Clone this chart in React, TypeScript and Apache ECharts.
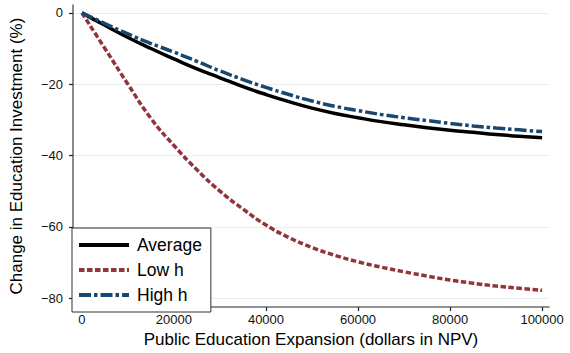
import React, { useEffect, useRef } from "react";
import * as echarts from "echarts";

const xValues = [0, 5000, 10000, 15000, 20000, 25000, 30000, 35000, 40000, 45000, 50000, 55000, 60000, 65000, 70000, 75000, 80000, 85000, 90000, 95000, 100000];
const averageValues = [0, -3.5, -6.9, -10.0, -12.9, -15.7, -18.2, -20.7, -22.9, -24.9, -26.7, -28.2, -29.4, -30.5, -31.4, -32.2, -32.9, -33.5, -34.1, -34.6, -35.0];
const lowHValues = [0, -10.0, -20.0, -29.6, -37.2, -44.0, -50.0, -55.0, -59.5, -63.0, -65.8, -68.0, -69.8, -71.3, -72.6, -73.8, -74.9, -75.8, -76.6, -77.2, -77.8];
const highHValues = [0, -3.0, -5.9, -8.6, -11.0, -13.6, -16.3, -18.7, -20.9, -22.9, -24.7, -26.2, -27.4, -28.5, -29.4, -30.2, -31.0, -31.7, -32.3, -32.8, -33.3];
const xTicks = [0, 20000, 40000, 60000, 80000, 100000];
const yTicks = [-80, -60, -40, -20, 0];
const seriesNames = ["Average", "Low h", "High h"];

const FONT = "Liberation Sans, Arial, Helvetica, sans-serif";

export default function App() {
  const ref = useRef<HTMLDivElement>(null);
  useEffect(() => {
    if (!ref.current) return;
    const chart = echarts.init(ref.current, undefined, { renderer: "svg" });
    const toPairs = (ys: number[]) => xValues.map((x, i) => [x, ys[i]]);
    chart.setOption({
      animation: false,
      backgroundColor: "#ffffff",
      textStyle: { fontFamily: FONT },
      grid: { left: 68, right: 21, top: 5, bottom: 43, containLabel: false },
      xAxis: {
        type: "value",
        min: -1935,
        max: 101500,
        name: "Public Education Expansion (dollars in NPV)",
        nameLocation: "middle",
        nameGap: 22,
        nameTextStyle: { fontSize: 17, color: "#000", fontFamily: FONT },
        axisLine: { show: true, onZero: false, lineStyle: { color: "#6e6e6e", width: 1.6 } },
        axisTick: { show: true, customValues: xTicks, length: 4, lineStyle: { color: "#222", width: 1.2 } },
        axisLabel: {
          customValues: xTicks,
          fontSize: 13,
          color: "#111",
          margin: 6,
          fontFamily: FONT,
          formatter: (v: number) => String(v),
        },
        splitLine: { show: false },
      },
      yAxis: {
        type: "value",
        min: -82.5,
        max: 2.2,
        name: "Change in Education Investment (%)",
        nameLocation: "middle",
        nameGap: 48,
        nameRotate: 90,
        nameTextStyle: { fontSize: 17, color: "#000", fontFamily: FONT },
        axisLine: { show: true, onZero: false, lineStyle: { color: "#6e6e6e", width: 1.6 } },
        axisTick: { show: true, customValues: yTicks, length: 4, lineStyle: { color: "#222", width: 1.2 } },
        axisLabel: {
          customValues: yTicks,
          fontSize: 13,
          color: "#111",
          margin: 10,
          fontFamily: FONT,
          formatter: (v: number) => String(v).replace("-", "\u2212"),
        },
        splitLine: { show: true, lineStyle: { color: "#e6eef0", width: 1 } },
      },
      legend: {
        show: true,
        orient: "vertical",
        left: 72,
        top: 228,
        data: seriesNames,
        itemWidth: 50,
        itemHeight: 14,
        itemGap: 7,
        padding: [8, 9, 8, 5],
        borderColor: "#333",
        borderWidth: 1,
        backgroundColor: "#fff",
        itemStyle: { opacity: 0 },
        lineStyle: { width: 4 },
        textStyle: { fontSize: 17.5, color: "#000", fontFamily: FONT, padding: [0, 0, 0, 3] },
      },
      series: [
        {
          name: seriesNames[0],
          type: "line",
          data: toPairs(averageValues),
          smooth: true,
          showSymbol: false,
          symbol: "none",
          lineStyle: { color: "#000000", width: 3.5, type: "solid" },
          itemStyle: { color: "#000000" },
          z: 3,
        },
        {
          name: seriesNames[1],
          type: "line",
          data: toPairs(lowHValues),
          smooth: true,
          showSymbol: false,
          symbol: "none",
          lineStyle: { color: "#90353b", width: 3.5, type: [5.5, 2.5] },
          itemStyle: { color: "#90353b" },
          z: 3,
        },
        {
          name: seriesNames[2],
          type: "line",
          data: toPairs(highHValues),
          smooth: true,
          showSymbol: false,
          symbol: "none",
          lineStyle: { color: "#1a476f", width: 3.5, type: [12, 3, 3.5, 3] },
          itemStyle: { color: "#1a476f" },
          z: 4,
        },
      ],
    });
    return () => chart.dispose();
  }, []);
  return (
    <div
      ref={ref}
      style={{ position: "fixed", left: 0, top: 0, width: 570, height: 353, background: "#fff" }}
    />
  );
}
